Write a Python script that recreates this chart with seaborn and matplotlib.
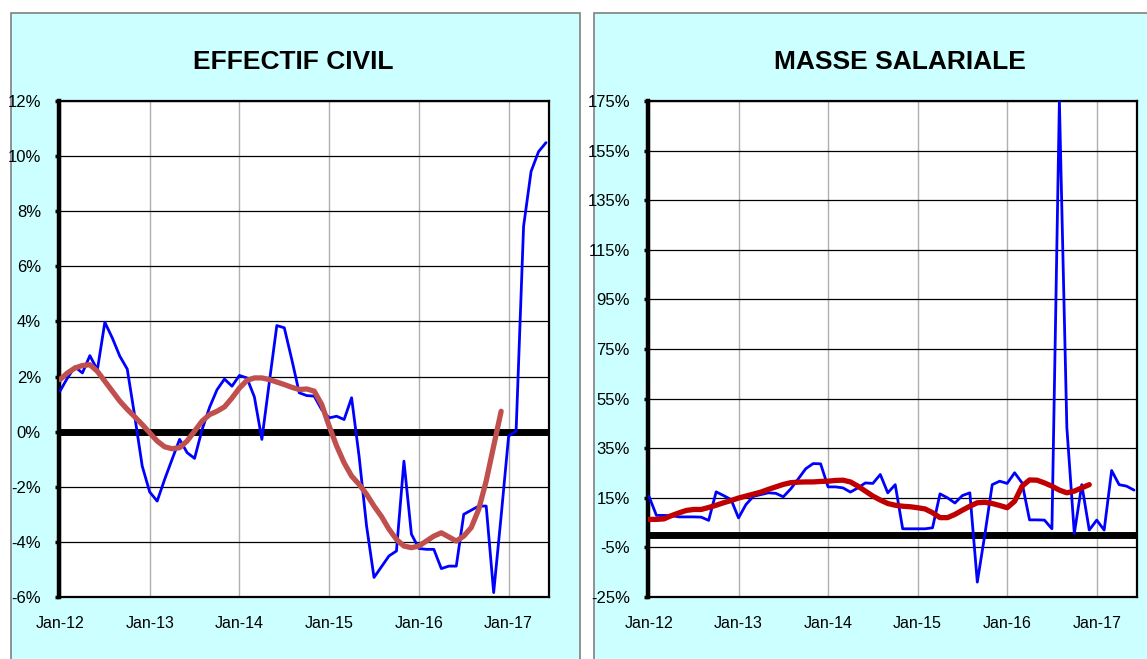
import matplotlib
matplotlib.use('Agg')
import matplotlib.pyplot as plt
from matplotlib.patches import Rectangle
from matplotlib.ticker import FixedLocator
import numpy as np
import pandas as pd
import seaborn as sns

# monthly series, Jan-12 .. Jun-17 (66 months), values in %
months = pd.date_range('2012-01-01', periods=66, freq='MS')

effectif = [1.47, 1.95, 2.35, 2.13, 2.76, 2.24, 3.97, 3.40, 2.74, 2.27,
            0.56, -1.25, -2.19, -2.52, -1.73, -1.00, -0.28, -0.76, -0.97, 0.07,
            0.88, 1.52, 1.91, 1.65, 2.04, 1.95, 1.26, -0.28, 1.80, 3.85,
            3.77, 2.62, 1.41, 1.31, 1.29, 0.80, 0.50, 0.56, 0.44, 1.23,
            -0.89, -3.42, -5.29, -4.90, -4.51, -4.33, -1.07, -3.72, -4.24, -4.27,
            -4.27, -4.97, -4.88, -4.88, -3.00, -2.85, -2.70, -2.70, -5.84, -3.06,
            -0.16, 0.02, 7.45, 9.44, 10.16, 10.49]
effectif_tend = [1.89, 2.13, 2.31, 2.40, 2.43, 2.19, 1.83, 1.47, 1.11, 0.81,
                 0.54, 0.26, -0.04, -0.34, -0.55, -0.62, -0.58, -0.34, 0.02, 0.38,
                 0.62, 0.74, 0.90, 1.22, 1.58, 1.86, 1.95, 1.95, 1.89, 1.80,
                 1.71, 1.61, 1.53, 1.55, 1.47, 0.99, 0.20, -0.52, -1.13, -1.61,
                 -1.91, -2.27, -2.70, -3.08, -3.54, -3.91, -4.15, -4.21, -4.15, -3.97,
                 -3.79, -3.67, -3.82, -3.97, -3.79, -3.48, -2.82, -1.79, -0.52, 0.74]

masse = [15.6, 7.9, 7.9, 7.8, 7.3, 7.3, 7.3, 7.2, 5.9, 17.4,
         15.9, 14.3, 6.9, 12.3, 15.6, 16.3, 17.0, 16.8, 15.4, 18.6,
         22.6, 26.7, 28.8, 28.7, 19.4, 19.4, 19.0, 17.3, 19.0, 21.0,
         20.8, 24.4, 17.0, 20.3, 2.5, 2.5, 2.5, 2.5, 2.9, 16.6,
         15.0, 12.9, 15.9, 17.0, -19.0, 0.0, 20.3, 21.7, 20.8, 25.1,
         21.0, 6.1, 6.1, 6.0, 2.5, 175.0, 43.3, 0.6, 20.3, 2.0,
         6.0, 2.0, 26.0, 20.3, 19.7, 18.1]
masse_tend = [6.3, 6.3, 6.5, 7.8, 8.9, 9.9, 10.3, 10.3, 11.1, 12.0,
              13.0, 13.9, 14.9, 15.7, 16.5, 17.3, 18.4, 19.4, 20.4, 21.1,
              21.3, 21.4, 21.4, 21.6, 21.7, 22.0, 22.1, 21.4, 19.7, 17.7,
              15.7, 14.1, 12.7, 12.0, 11.6, 11.4, 11.0, 10.5, 9.0, 7.0,
              7.0, 8.3, 10.0, 11.6, 13.0, 13.2, 12.7, 11.9, 11.0, 13.6,
              19.7, 22.2, 22.1, 21.0, 19.7, 18.1, 17.0, 17.7, 19.0, 20.3]

titles = ['EFFECTIF CIVIL', 'MASSE SALARIALE']
yticks_left = [-6, -4, -2, 0, 2, 4, 6, 8, 10, 12]
yticks_right = [-25, -5, 15, 35, 55, 75, 95, 115, 135, 155, 175]

sns.set_style('white')
plt.rcParams['font.family'] = ['Liberation Sans', 'DejaVu Sans']
plt.rcParams['text.color'] = 'black'
plt.rcParams['xtick.color'] = 'black'
plt.rcParams['ytick.color'] = 'black'

fig = plt.figure(figsize=(11.47, 6.59), dpi=100)
W, H = 1147, 659

# light cyan panels behind each chart
for x0, x1 in [(11, 580), (594, 1160)]:
    fig.patches.append(Rectangle((x0 / W, -0.05), (x1 - x0) / W, (H - 13) / H + 0.05,
                                 transform=fig.transFigure, facecolor='#CCFFFF',
                                 edgecolor='#808080', lw=1.2, zorder=-10))

ax1 = fig.add_axes([59 / W, 1 - 597 / H, 490 / W, 496 / H])
ax2 = fig.add_axes([648 / W, 1 - 597 / H, 489 / W, 496 / H])

x = np.arange(len(months))
jan_pos = [i for i, d in enumerate(months) if d.month == 1]
jan_lab = [months[i].strftime('%b-%y') for i in jan_pos]


def draw(ax, serie, tend, tend_color, yticks):
    ax.set_facecolor('white')
    sns.lineplot(x=x, y=serie, ax=ax, color='#0000FF', lw=2.0, zorder=3)
    sns.lineplot(x=x[:len(tend)], y=tend, ax=ax, color=tend_color, lw=3.8, zorder=4)
    ax.axhline(0, color='black', lw=5, zorder=2)
    ax.set_xlim(-0.13, 65.4)
    ax.set_ylim(yticks[0], yticks[-1])
    ax.yaxis.set_major_locator(FixedLocator(yticks))
    ax.set_yticklabels([f'{t}%' for t in yticks])
    ax.set_xticks(jan_pos)
    ax.set_xticklabels(jan_lab)
    ax.grid(axis='y', color='black', lw=0.9, zorder=1)
    ax.grid(axis='x', color='#b0b0b0', lw=1.0, zorder=1)
    ax.tick_params(axis='y', length=3, width=2.5, color='black', pad=10,
                   labelsize=12, direction='out', left=True)
    ax.tick_params(axis='x', length=0, pad=14, labelsize=11.5)
    for s in ['top', 'right', 'bottom']:
        ax.spines[s].set_color('black')
        ax.spines[s].set_linewidth(1.6)
    ax.spines['left'].set_color('black')
    ax.spines['left'].set_linewidth(3.2)
    ax.set_xlabel('')
    ax.set_ylabel('')


draw(ax1, effectif, effectif_tend, '#C0504D', yticks_left)
draw(ax2, masse, masse_tend, '#C00000', yticks_right)

fig.text(293 / W, 1 - 62 / H, titles[0], ha='center', va='center',
         fontsize=19, fontweight='bold')
fig.text(900 / W, 1 - 62 / H, titles[1], ha='center', va='center',
         fontsize=19, fontweight='bold')

fig.savefig('out.png', dpi=100, facecolor='white')
